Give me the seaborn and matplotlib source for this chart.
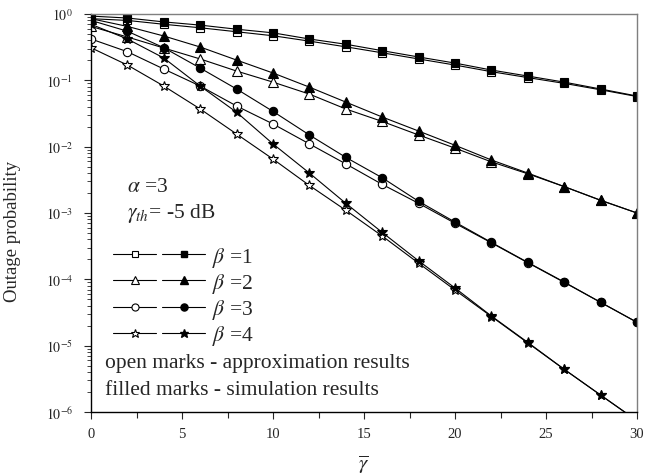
import matplotlib
matplotlib.use("Agg")
import matplotlib.pyplot as plt
import seaborn as sns
import numpy as np
import pandas as pd
from matplotlib.lines import Line2D
from matplotlib.legend_handler import HandlerTuple
from matplotlib.ticker import FixedLocator, LogLocator, NullFormatter, FuncFormatter

gamma = [0, 2, 4, 6, 8, 10, 12, 14, 16, 18, 20, 22, 24, 26, 28, 30]

beta1_approx = [0.85, 0.80, 0.70, 0.62, 0.54, 0.47, 0.39, 0.32, 0.26, 0.21, 0.17, 0.135, 0.11, 0.09, 0.072, 0.057]
beta1_sim = [0.93, 0.87, 0.76, 0.68, 0.59, 0.52, 0.42, 0.35, 0.28, 0.225, 0.182, 0.143, 0.116, 0.094, 0.074, 0.058]

beta2_approx = [0.65, 0.45, 0.307, 0.21, 0.138, 0.094, 0.062, 0.037, 0.024, 0.015, 0.0095, 0.0059, 0.0039, 0.0025, 0.00155, 0.001]
beta2_sim = [0.85, 0.65, 0.466, 0.318, 0.202, 0.129, 0.079, 0.047, 0.028, 0.0172, 0.0105, 0.0063, 0.0040, 0.0025, 0.00156, 0.001]

beta3_approx = [0.42, 0.27, 0.148, 0.082, 0.041, 0.022, 0.011, 0.0055, 0.0027, 0.0014, 7.0e-4, 3.55e-4, 1.78e-4, 9.0e-5, 4.5e-5, 2.25e-5]
beta3_sim = [0.8, 0.55, 0.31, 0.153, 0.074, 0.034, 0.015, 0.0069, 0.0034, 0.0015, 7.3e-4, 3.6e-4, 1.8e-4, 9.1e-5, 4.5e-5, 2.25e-5]

beta4_approx = [0.31, 0.17, 0.082, 0.037, 0.0155, 0.0065, 0.0026, 0.0011, 4.5e-4, 1.75e-4, 6.9e-5, 2.75e-5, 1.1e-5, 4.4e-6, 1.8e-6, 7.4e-7]
beta4_sim = [0.7, 0.42, 0.217, 0.082, 0.033, 0.011, 0.004, 0.0014, 5.1e-4, 1.9e-4, 7.4e-5, 2.8e-5, 1.12e-5, 4.4e-6, 1.8e-6, 7.4e-7]

beta_labels = [r"$\beta$ =1", r"$\beta$ =2", r"$\beta$ =3", r"$\beta$ =4"]
x_ticks = [0, 5, 10, 15, 20, 25, 30]
y_ticks = [1e-6, 1e-5, 1e-4, 1e-3, 1e-2, 1e-1, 1e0]

sns.set_style("ticks")
plt.rcParams["font.family"] = ["Liberation Serif", "DejaVu Serif"]
plt.rcParams["mathtext.fontset"] = "stix"

fig = plt.figure(figsize=(6.46, 4.77), dpi=100)
ax = fig.add_axes([91 / 646, 1 - 413 / 477, 546 / 646, 398 / 477])

series = [
    (beta1_approx, beta1_sim, "s", 5.5),
    (beta2_approx, beta2_sim, "^", 6.5),
    (beta3_approx, beta3_sim, "o", 6.0),
    (beta4_approx, beta4_sim, "*", 7.5),
]

handles = []
for approx, sim, mk, ms in series:
    sns.lineplot(x=gamma, y=approx, ax=ax, color="black", linewidth=0.8,
                 marker=mk, markersize=ms, markerfacecolor="white",
                 markeredgecolor="black", markeredgewidth=0.8, legend=False)
    sns.lineplot(x=gamma, y=sim, ax=ax, color="black", linewidth=0.8,
                 marker=mk, markersize=ms, markerfacecolor="black",
                 markeredgecolor="black", markeredgewidth=0.8, legend=False)
    h_open = Line2D([], [], color="black", linewidth=0.8, marker=mk,
                    markersize=ms * 0.85, markerfacecolor="white", markeredgecolor="black",
                    markeredgewidth=0.8)
    h_fill = Line2D([], [], color="black", linewidth=0.8, marker=mk,
                    markersize=ms * 0.85, markerfacecolor="black", markeredgecolor="black")
    handles.append((h_open, h_fill))

ax.set_yscale("log")
ax.set_xlim(0, 30)
ax.set_ylim(1e-6, 1)

ax.xaxis.set_major_locator(FixedLocator(x_ticks))
ax.xaxis.set_minor_locator(FixedLocator([2.5, 7.5, 12.5, 17.5, 22.5, 27.5]))
ax.yaxis.set_major_locator(FixedLocator(y_ticks))
ax.yaxis.set_minor_locator(LogLocator(base=10, subs=np.arange(2, 10), numticks=20))
ax.yaxis.set_minor_formatter(NullFormatter())
ax.yaxis.set_major_formatter(FuncFormatter(lambda v, p: r"$10^{%d}$" % int(round(np.log10(v)))))

ax.tick_params(axis="x", which="major", direction="out", length=5, width=0.8, labelsize=10.5, pad=6)
ax.tick_params(axis="x", which="minor", direction="out", length=4, width=0.8)
ax.tick_params(axis="y", which="major", direction="out", length=5, width=0.8, labelsize=10, pad=8)
ax.tick_params(axis="y", which="minor", direction="out", length=3, width=0.6)

for s in ["left", "bottom"]:
    ax.spines[s].set_color("black")
    ax.spines[s].set_linewidth(1.0)
for s in ["top", "right"]:
    ax.spines[s].set_color("#7f7f7f")
    ax.spines[s].set_linewidth(1.0)

ax.set_xlabel(r"$\overline{\gamma}$", fontsize=15, labelpad=9)
ax.set_ylabel("Outage probability", fontsize=13.5)
ax.yaxis.set_label_coords(-0.128, 0.455)

ax.text(0.066, 0.555, r"$\alpha$ =3", transform=ax.transAxes, fontsize=15.5, va="baseline")
ax.text(0.066, 0.490, r"$\gamma_{th}$= -5 dB", transform=ax.transAxes, fontsize=15.5, va="baseline")
ax.text(0.026, 0.113, "open marks - approximation results", transform=ax.transAxes, fontsize=15.5, va="baseline")
ax.text(0.026, 0.045, "filled marks - simulation results", transform=ax.transAxes, fontsize=15.5, va="baseline")

leg = ax.legend(handles, beta_labels, handler_map={tuple: HandlerTuple(ndivide=None, pad=0.25)},
                loc="upper left", bbox_to_anchor=(0.04, 0.42), frameon=False, fontsize=15.5,
                handlelength=4.3, handletextpad=0.3, labelspacing=0.1, borderpad=0,
                borderaxespad=0, numpoints=1)

fig.savefig("out.png", dpi=100)
